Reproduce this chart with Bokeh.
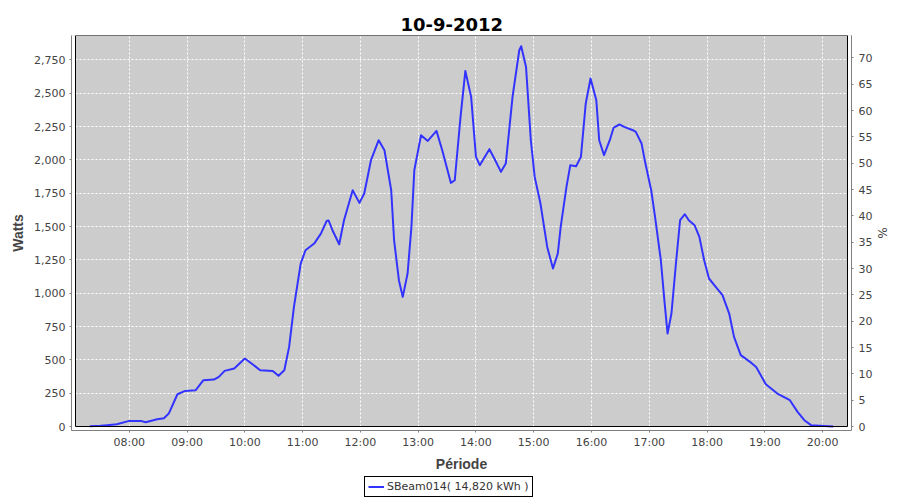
from bokeh.plotting import figure
from bokeh.layouts import column
from bokeh.models import (Range1d, LinearAxis, FixedTicker, NumeralTickFormatter,
                          BoxAnnotation, Title, Legend, LegendItem, ColumnDataSource)
from bokeh.embed import file_html
from bokeh.resources import INLINE

# ---------------- data ----------------
title_text = "10-9-2012"
x_label = "Période"
y_label = "Watts"
y2_label = "%"
series_name = "SBeam014( 14,820 kWh )"

times = ["07:19", "07:30", "07:37", "07:47", "08:00", "08:12", "08:17", "08:29", "08:36", "08:41",
         "08:50", "08:58", "09:09", "09:17", "09:28", "09:33", "09:39", "09:49", "10:00", "10:08",
         "10:16", "10:29", "10:35", "10:41", "10:46", "10:51", "10:58", "11:03", "11:12", "11:19",
         "11:25", "11:27", "11:31", "11:38", "11:43", "11:52", "11:59", "12:04", "12:11", "12:19",
         "12:25", "12:32", "12:35", "12:40", "12:44", "12:49", "12:53", "12:56", "13:03", "13:10",
         "13:19", "13:25", "13:34", "13:38", "13:44", "13:49", "13:55", "14:00", "14:04", "14:14",
         "14:20", "14:26", "14:31", "14:38", "14:45", "14:47", "14:52", "14:57", "15:01", "15:07",
         "15:14", "15:20", "15:25", "15:28", "15:34", "15:38", "15:44", "15:49", "15:54", "15:59",
         "16:05", "16:08", "16:13", "16:19", "16:23", "16:29", "16:34", "16:43", "16:46", "16:52",
         "16:56", "17:02", "17:06", "17:12", "17:16", "17:19", "17:23", "17:28", "17:32", "17:37",
         "17:41", "17:47", "17:52", "17:57", "18:02", "18:09", "18:16", "18:23", "18:28", "18:35",
         "18:46", "18:51", "19:01", "19:13", "19:26", "19:34", "19:41", "19:48", "20:11"]
watts = [2, 5, 10, 17, 42, 42, 32, 55, 62, 97,
         242, 267, 272, 347, 352, 372, 417, 435, 510, 467,
         422, 417, 380, 422, 597, 897, 1222, 1322, 1372, 1447,
         1542, 1545, 1472, 1367, 1547, 1772, 1677, 1747, 1997, 2147,
         2072, 1772, 1397, 1097, 972, 1147, 1497, 1922, 2185, 2142,
         2217, 2072, 1827, 1847, 2322, 2667, 2472, 2022, 1960, 2080,
         1997, 1910, 1972, 2472, 2822, 2852, 2697, 2147, 1872, 1672,
         1347, 1185, 1297, 1497, 1797, 1960, 1952, 2022, 2422, 2610,
         2447, 2147, 2035, 2147, 2242, 2265, 2247, 2222, 2210, 2122,
         1972, 1772, 1572, 1247, 922, 697, 847, 1247, 1547, 1592,
         1547, 1510, 1422, 1247, 1110, 1047, 985, 847, 672, 535,
         477, 447, 317, 247, 197, 110, 47, 10, 0]

watt_ticks = [0, 250, 500, 750, 1000, 1250, 1500, 1750, 2000, 2250, 2500, 2750]
pct_ticks = [0, 5, 10, 15, 20, 25, 30, 35, 40, 45, 50, 55, 60, 65, 70]
hour_tick_labels = ["08:00", "09:00", "10:00", "11:00", "12:00", "13:00", "14:00",
                    "15:00", "16:00", "17:00", "18:00", "19:00", "20:00"]
nominal_watts = 3950  # value shown as 100 % on the right axis


def to_hours(s):
    h, m = s.split(":")
    return int(h) + int(m) / 60.0


hours = [to_hours(t) for t in times]
hour_ticks = [int(to_hours(t)) for t in hour_tick_labels]

# ---------------- layout ----------------
W = 900
H1, H2 = 474, 26         # main chart / legend strip
FL, FT = 71, 35          # frame left / top in canvas px
FW, FH = 780, 395        # frame size
GAP = 4                  # axis offset from plot area
x0, x1 = 7.0, 20.5
px_per_h = FW / (x1 - x0)
w_per_px = 7.5
y0 = -GAP * w_per_px
y1 = (FH - GAP) * w_per_px
pct_per_w = 100.0 / nominal_watts

FONT = "DejaVu Sans"
LBL_FONT = "Liberation Sans"
GREY_TXT = "#444444"
AXIS_GREY = "#808080"
LINE_COLOR = "#3333ff"

p = figure(width=W, height=H1, title=None,
           x_range=Range1d(x0, x1), y_range=Range1d(y0, y1),
           output_backend="svg", toolbar_location=None,
           min_border_left=FL, min_border_right=W - FL - FW,
           min_border_top=FT, min_border_bottom=H1 - FT - FH,
           background_fill_color="#cccccc", border_fill_color="white",
           outline_line_color=None)

ax_x = p.below[0]
ax_y = p.left[0]

p.extra_y_ranges = {"pct": Range1d(y0 * pct_per_w, y1 * pct_per_w)}
ax2 = LinearAxis(y_range_name="pct", ticker=FixedTicker(ticks=pct_ticks), axis_label=y2_label)
p.add_layout(ax2, "right")

for ax in [ax_x, ax_y, ax2]:
    ax.axis_line_color = AXIS_GREY
    ax.major_tick_line_color = AXIS_GREY
    ax.major_tick_out = 2
    ax.major_tick_in = 0
    ax.minor_tick_line_color = None
    ax.major_label_text_font = FONT
    ax.major_label_text_font_size = "11px"
    ax.major_label_text_color = GREY_TXT
    ax.axis_label_text_color = GREY_TXT

ax_x.ticker = FixedTicker(ticks=hour_ticks)
ax_x.major_label_overrides = {h: lab for h, lab in zip(hour_ticks, hour_tick_labels)}
ax_x.axis_label = x_label
ax_x.major_label_standoff = 3
ax_x.axis_label_standoff = 4

ax_y.ticker = FixedTicker(ticks=watt_ticks)
ax_y.formatter = NumeralTickFormatter(format="0,0")
ax_y.axis_label = y_label
ax_y.major_label_standoff = 4
ax_y.axis_label_standoff = 5

for ax in [ax_x, ax_y]:
    ax.axis_label_text_font = LBL_FONT
    ax.axis_label_text_font_style = "bold"
    ax.axis_label_text_font_size = "14px"

ax2.major_label_standoff = 5
ax2.axis_label_standoff = 0
ax2.axis_label_text_font = FONT
ax2.axis_label_text_font_style = "normal"
ax2.axis_label_text_font_size = "12px"

p.xgrid.ticker = FixedTicker(ticks=hour_ticks)
p.ygrid.ticker = FixedTicker(ticks=watt_ticks)
for g in [p.xgrid[0], p.ygrid[0]]:
    g.grid_line_color = "white"
    g.grid_line_dash = "2 2"
    g.grid_line_width = 1
    g.grid_line_alpha = 1

# white margins between plot area and offset axes
gl = x0 + GAP / px_per_h
gr = x1 - GAP / px_per_h
for kw in [dict(right=gl), dict(left=gr), dict(top=0)]:
    p.add_layout(BoxAnnotation(fill_color="white", fill_alpha=1, line_color=None,
                               level="underlay", **kw))

src = ColumnDataSource(dict(h=hours, w=watts))
r = p.line(x="h", y="w", source=src, line_color=LINE_COLOR, line_width=2,
           line_join="round")

p.add_layout(BoxAnnotation(left=gl, right=gr, bottom=0, fill_alpha=0, line_color="black",
                           line_alpha=1, line_width=1, level="annotation"))

p.add_layout(Title(text=title_text, align="left", offset=329, standoff=10,
                   text_font=FONT, text_font_style="bold", text_font_size="18px",
                   text_color="black"), "above")

# ---------------- legend strip ----------------
p2 = figure(width=W, height=H2, title=None, x_axis_type=None, y_axis_type=None,
            x_range=Range1d(0, 1), y_range=Range1d(0, 1),
            output_backend="svg", toolbar_location=None,
            min_border=0, min_border_left=0, min_border_right=0,
            min_border_top=0, min_border_bottom=0,
            background_fill_color="white", border_fill_color="white",
            outline_line_color=None)
# same series, outside this strip's ranges: only its legend entry is visible
r2 = p2.line(x="h", y="w", source=src, line_color=LINE_COLOR, line_width=2)
legend = Legend(items=[LegendItem(label=series_name, renderers=[r2])],
                location=(293, 3), orientation="horizontal",
                border_line_color="black", border_line_width=1, border_line_alpha=1,
                background_fill_color="white", background_fill_alpha=1,
                padding=3, spacing=0, margin=0, glyph_width=16, glyph_height=13,
                label_standoff=3, label_text_font=FONT, label_text_font_size="11px",
                label_text_color="#333333")
p2.add_layout(legend)

layout = column(p, p2, spacing=0)
open("out.html", "w").write(file_html(layout, INLINE))
